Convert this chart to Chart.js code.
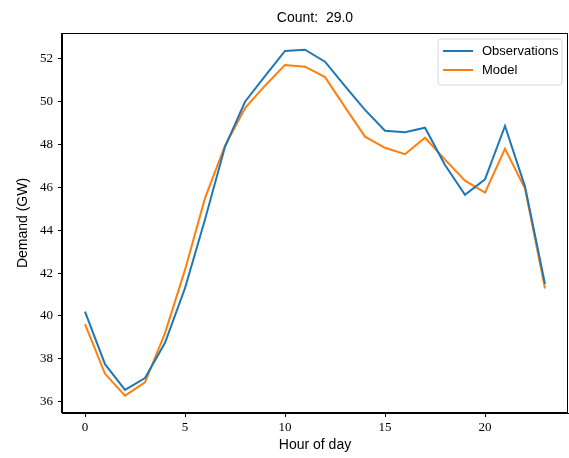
<!DOCTYPE html>
<html>
<head>
<meta charset="utf-8">
<script src="https://cdn.jsdelivr.net/npm/chart.js@4.4.0/dist/chart.umd.min.js"></script>
<style>
  html, body { margin: 0; padding: 0; background: #fff; }
  #wrap { width: 569px; height: 458px; position: relative; }
</style>
</head>
<body>
<div id="wrap"><canvas id="c"></canvas></div>
<script>
// ── Data ────────────────────────────────────────────────────
var hours = [0,1,2,3,4,5,6,7,8,9,10,11,12,13,14,15,16,17,18,19,20,21,22,23];
var observations = [40.2,37.75,36.55,37.1,38.75,41.3,44.5,47.9,50.0,51.2,52.37,52.43,51.87,50.73,49.62,48.65,48.58,48.79,47.05,45.66,46.38,48.87,46.04,41.5];
var model        = [39.62,37.3,36.28,36.9,39.2,42.15,45.5,47.95,49.7,50.75,51.72,51.64,51.15,49.75,48.37,47.85,47.55,48.32,47.3,46.32,45.76,47.8,45.95,41.28];
var xTicks = [0,5,10,15,20];
var yTicks = [36,38,40,42,44,46,48,50,52];
var seriesNames = ['Observations','Model'];
var titleText = 'Count:  29.0';
var xLabel = 'Hour of day';
var yLabel = 'Demand (GW)';

var BLUE = '#1f77b4', ORANGE = '#ff7f0e';

function pts(arr) {
  return hours.map(function(h, i) { return { x: h, y: arr[i] }; });
}

// ── Frame, titles, legend ───────────────────────────────────
var decor = {
  id: 'decor',
  afterDraw: function(chart) {
    var ctx = chart.ctx, a = chart.chartArea;
    ctx.save();
    // frame
    ctx.strokeStyle = '#000';
    ctx.lineWidth = 1;
    ctx.strokeRect(Math.round(a.left) - 0.5, Math.round(a.top) + 0.5, Math.round(a.right - a.left), Math.round(a.bottom - a.top) - 1);
    // title
    ctx.fillStyle = '#000';
    ctx.font = '14px "Liberation Sans"';
    ctx.textAlign = 'center';
    ctx.textBaseline = 'middle';
    ctx.fillText(titleText, (a.left + a.right) / 2, 18);
    // x label
    ctx.fillText(xLabel, (a.left + a.right) / 2, 445);
    // y label
    ctx.translate(23, (a.top + a.bottom) / 2);
    ctx.rotate(-Math.PI / 2);
    ctx.fillText(yLabel, 0, 0);
    ctx.restore();

    // legend
    ctx.save();
    var bx = 438, by = 39, bw = 124, bh = 46, r = 3;
    ctx.beginPath();
    ctx.moveTo(bx + r, by);
    ctx.arcTo(bx + bw, by, bx + bw, by + bh, r);
    ctx.arcTo(bx + bw, by + bh, bx, by + bh, r);
    ctx.arcTo(bx, by + bh, bx, by, r);
    ctx.arcTo(bx, by, bx + bw, by, r);
    ctx.closePath();
    ctx.fillStyle = 'rgba(255,255,255,0.8)';
    ctx.fill();
    ctx.strokeStyle = '#d6d6d6';
    ctx.lineWidth = 1;
    ctx.stroke();
    var colors = [BLUE, ORANGE];
    ctx.font = '13px "Liberation Sans"';
    ctx.textAlign = 'left';
    ctx.textBaseline = 'middle';
    seriesNames.forEach(function(name, i) {
      var y = 51 + i * 19;
      ctx.strokeStyle = colors[i];
      ctx.lineWidth = 2;
      ctx.beginPath();
      ctx.moveTo(443, y);
      ctx.lineTo(473, y);
      ctx.stroke();
      ctx.fillStyle = '#000';
      ctx.fillText(name, 482, y);
    });
    ctx.restore();
  }
};

var tickFont = { family: '"Liberation Serif"', size: 13 };

new Chart(document.getElementById('c'), {
  type: 'line',
  data: {
    datasets: [
      { label: seriesNames[0], data: pts(observations), borderColor: BLUE, borderWidth: 2, pointRadius: 0, tension: 0, fill: false },
      { label: seriesNames[1], data: pts(model), borderColor: ORANGE, borderWidth: 2, pointRadius: 0, tension: 0, fill: false }
    ]
  },
  options: {
    responsive: true,
    maintainAspectRatio: false,
    animation: false,
    events: [],
    layout: { padding: { top: 33, right: 1, left: 0, bottom: 0 } },
    plugins: { legend: { display: false }, tooltip: { enabled: false }, title: { display: false } },
    scales: {
      x: {
        type: 'linear',
        min: -1.15, max: 24.15,
        afterBuildTicks: function(s) { s.ticks = xTicks.map(function(v) { return { value: v }; }); },
        afterFit: function(s) { s.height = 45; },
        grid: { drawOnChartArea: false, drawTicks: true, tickLength: 4, tickColor: '#000' },
        border: { display: true, color: '#000', width: 1 },
        ticks: { color: '#000', font: tickFont, padding: 3, maxRotation: 0 }
      },
      y: {
        type: 'linear',
        min: 35.47, max: 53.21,
        afterBuildTicks: function(s) { s.ticks = yTicks.map(function(v) { return { value: v }; }); },
        afterFit: function(s) { s.width = 62; },
        grid: { drawOnChartArea: false, drawTicks: true, tickLength: 4, tickColor: '#000' },
        border: { display: true, color: '#000', width: 1 },
        ticks: { color: '#000', font: tickFont, padding: 5 }
      }
    }
  },
  plugins: [decor]
});
</script>
</body>
</html>
